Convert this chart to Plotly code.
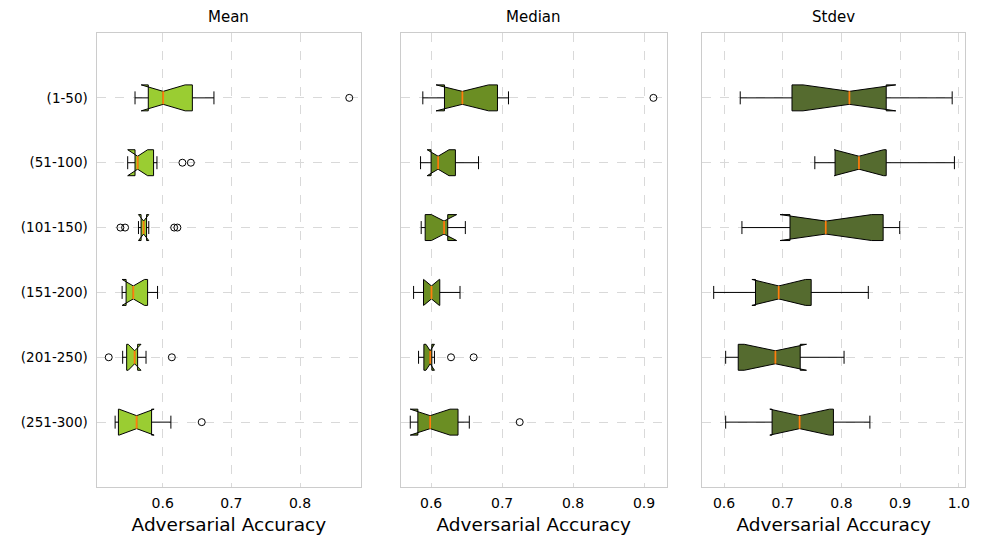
import plotly.graph_objects as go

groups = ["(1-50)", "(51-100)", "(101-150)", "(151-200)", "(201-250)", "(251-300)"]
positions = [1, 2, 3, 4, 5, 6]

# Mean panel
mean_lf = [0.5597, 0.5490, 0.5685, 0.5432, 0.5417, 0.5307]
mean_q1 = [0.5790, 0.5597, 0.5685, 0.5467, 0.5475, 0.5355]
mean_med = [0.6007, 0.5635, 0.5722, 0.5572, 0.5591, 0.5620]
mean_q3 = [0.6432, 0.5867, 0.5765, 0.5780, 0.5635, 0.5838]
mean_uf = [0.6746, 0.5916, 0.5765, 0.5925, 0.5757, 0.6119]
mean_notch = [0.0320, 0.0145, 0.0075, 0.0163, 0.0093, 0.0255]
mean_out_x = [0.8717, 0.6287, 0.6410, 0.5384, 0.5452, 0.6167, 0.6214, 0.5214, 0.6133, 0.6568]
mean_out_y = [1, 2, 2, 3, 3, 3, 3, 5, 5, 6]

# Median panel
median_lf = [0.5883, 0.5851, 0.5860, 0.5753, 0.5823, 0.5753]
median_q1 = [0.6188, 0.6000, 0.5916, 0.5893, 0.5898, 0.5813]
median_med = [0.6440, 0.6098, 0.6182, 0.6005, 0.5987, 0.5986]
median_q3 = [0.6935, 0.6342, 0.6234, 0.6122, 0.6010, 0.6379]
median_uf = [0.7090, 0.6668, 0.6482, 0.6407, 0.6010, 0.6538]
median_notch = [0.0370, 0.0154, 0.0178, 0.0110, 0.0060, 0.0280]
median_out_x = [0.9132, 0.6280, 0.6599, 0.7248]
median_out_y = [1, 5, 5, 6]

# Stdev panel
stdev_lf = [0.6276, 0.7547, 0.6305, 0.5824, 0.6028, 0.6028]
stdev_q1 = [0.7158, 0.7892, 0.7124, 0.6536, 0.6242, 0.6819]
stdev_med = [0.8136, 0.8299, 0.7734, 0.6932, 0.6875, 0.7288]
stdev_q3 = [0.8763, 0.8763, 0.8711, 0.7485, 0.7298, 0.7864]
stdev_uf = [0.9887, 0.9925, 0.8993, 0.8458, 0.8045, 0.8485]
stdev_notch = [0.0790, 0.0420, 0.0780, 0.0457, 0.0530, 0.0508]

panels = [
    dict(title="Mean", color="#9ACD32", lf=mean_lf, q1=mean_q1, med=mean_med, q3=mean_q3,
         uf=mean_uf, notch=mean_notch, ox=mean_out_x, oy=mean_out_y,
         rng=[0.5036, 0.889], ticks=[0.6, 0.7, 0.8], dom=[97, 363]),
    dict(title="Median", color="#6B8E23", lf=median_lf, q1=median_q1, med=median_med, q3=median_q3,
         uf=median_uf, notch=median_notch, ox=median_out_x, oy=median_out_y,
         rng=[0.5575, 0.9318], ticks=[0.6, 0.7, 0.8, 0.9], dom=[403, 670]),
    dict(title="Stdev", color="#556B2F", lf=stdev_lf, q1=stdev_q1, med=stdev_med, q3=stdev_q3,
         uf=stdev_uf, notch=stdev_notch, ox=[], oy=[],
         rng=[0.5632, 1.0107], ticks=[0.6, 0.7, 0.8, 0.9, 1.0], dom=[706, 970]),
]

W, H = 988, 537
BOX_W = 0.4
FONT = "DejaVu Sans"

fig = go.Figure()
for i, p in enumerate(panels):
    xa = "x" if i == 0 else f"x{i+1}"
    ya = "y" if i == 0 else f"y{i+1}"
    fig.add_trace(go.Box(
        orientation="h", y=positions, q1=p["q1"], median=p["med"], q3=p["q3"],
        lowerfence=p["lf"], upperfence=p["uf"], notchspan=p["notch"], notched=True,
        notchwidth=0.25, width=BOX_W, whiskerwidth=0.5, boxpoints=False,
        fillcolor=p["color"], line=dict(color="black", width=1),
        xaxis=xa, yaxis=ya, showlegend=False, hoverinfo="skip"))
    mx, my = [], []
    for pos, m in zip(positions, p["med"]):
        mx += [m, m, None]
        my += [pos - BOX_W / 4, pos + BOX_W / 4, None]
    fig.add_trace(go.Scatter(x=mx, y=my, mode="lines", line=dict(color="#ff7f0e", width=1.8),
                             xaxis=xa, yaxis=ya, showlegend=False, hoverinfo="skip"))
    if p["ox"]:
        fig.add_trace(go.Scatter(x=p["ox"], y=p["oy"], mode="markers",
                                 marker=dict(symbol="circle-open", color="black", size=7,
                                             line=dict(width=1)),
                                 xaxis=xa, yaxis=ya, showlegend=False, hoverinfo="skip"))

    axis_common = dict(showline=True, mirror=True, linecolor="#cccccc", linewidth=1,
                       showgrid=True, gridcolor="#d9d9d9", griddash="dash", gridwidth=1,
                       zeroline=False, ticks="")
    fig.layout[("xaxis" if i == 0 else f"xaxis{i+1}")] = dict(
        domain=[p["dom"][0] / W, p["dom"][1] / W], range=p["rng"], tickvals=p["ticks"],
        ticktext=[f"{t:.1f}" for t in p["ticks"]], anchor=ya, ticklabelstandoff=3,
        tickfont=dict(family=FONT, size=14, color="black"),
        title=dict(text="Adversarial Accuracy", font=dict(family=FONT, size=18.5, color="black"), standoff=8),
        **axis_common)
    fig.layout[("yaxis" if i == 0 else f"yaxis{i+1}")] = dict(
        domain=[1 - 487 / H, 1 - 33 / H], range=[7, 0], tickvals=positions,
        ticktext=groups, showticklabels=(i == 0), anchor=xa, ticklabelstandoff=5,
        tickfont=dict(family=FONT, size=13.5, color="black"),
        **axis_common)
    fig.add_annotation(text=p["title"], x=(p["dom"][0] + p["dom"][1]) / 2 / W, y=1 - 17 / H,
                       xref="paper", yref="paper", showarrow=False, yanchor="middle",
                       xanchor="center", font=dict(family=FONT, size=15, color="black"))

fig.update_layout(width=W, height=H, margin=dict(l=0, r=0, t=0, b=0),
                  paper_bgcolor="white", plot_bgcolor="white", boxmode="overlay",
                  font=dict(family=FONT, color="black"))
fig.write_html("out.html")
